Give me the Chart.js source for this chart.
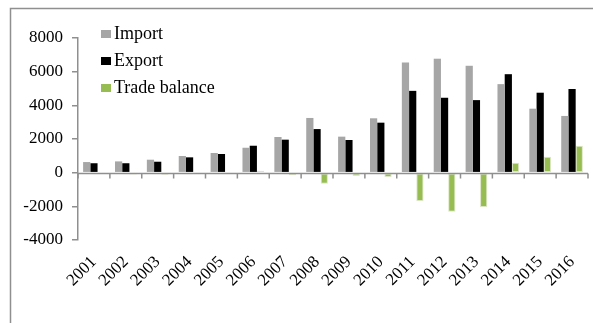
<!DOCTYPE html>
<html>
<head>
<meta charset="utf-8">
<script src="https://cdn.jsdelivr.net/npm/chart.js@4"></script>
<style>
  html, body { margin: 0; padding: 0; background: #ffffff; }
  #wrap { width: 593px; height: 323px; position: relative; }
</style>
</head>
<body>
<div id="wrap"><canvas id="chart" width="593" height="323"></canvas></div>
<script>
// Yearly trade figures
const years = ['2001', '2002', '2003', '2004', '2005', '2006', '2007', '2008',
               '2009', '2010', '2011', '2012', '2013', '2014', '2015', '2016'];
const importValues = [630, 670, 770, 990, 1170, 1480, 2120, 3250,
                      2140, 3230, 6550, 6770, 6350, 5260, 3800, 3370];
const exportValues = [560, 560, 650, 910, 1110, 1600, 1960, 2590,
                      1940, 2970, 4860, 4450, 4310, 5850, 4750, 4970];
const tradeBalance = [-70, -110, -120, -80, -60, 120, -160, -660,
                      -200, -260, -1690, -2320, -2040, 590, 950, 1600];
const yTickValues = [-4000, -2000, 0, 2000, 4000, 6000, 8000];

const AXIS_GREY = '#8f8f8f';
const SERIF = '"Liberation Serif", "Times New Roman", serif';

// Outer border of the chart box
const framePlugin = {
  id: 'frame',
  beforeDraw(chart) {
    const ctx = chart.ctx;
    ctx.save();
    ctx.strokeStyle = AXIS_GREY;
    ctx.lineWidth = 1.5;
    ctx.beginPath();
    ctx.moveTo(10.5, 323);
    ctx.lineTo(10.5, 8.5);
    ctx.lineTo(593, 8.5);
    ctx.stroke();
    ctx.restore();
  }
};

// Category axis line crossing at zero, with tick marks between categories
const zeroAxisPlugin = {
  id: 'zeroAxis',
  afterDatasetsDraw(chart) {
    const { ctx, chartArea, scales } = chart;
    const y0 = Math.round(scales.y.getPixelForValue(0)) + 0.5;
    const n = chart.data.labels.length;
    const step = (chartArea.right - chartArea.left) / n;
    ctx.save();
    ctx.strokeStyle = AXIS_GREY;
    ctx.lineWidth = 1.5;
    ctx.beginPath();
    ctx.moveTo(chartArea.left, y0);
    ctx.lineTo(chartArea.right, y0);
    for (let i = 0; i <= n; i++) {
      const x = chartArea.left + i * step;
      ctx.moveTo(x, y0);
      ctx.lineTo(x, y0 + 5);
    }
    ctx.stroke();
    ctx.restore();
  }
};

// Legend stacked in the upper-left corner of the plot
const cornerLegendPlugin = {
  id: 'cornerLegend',
  afterDraw(chart) {
    const ctx = chart.ctx;
    ctx.save();
    ctx.font = '18px ' + SERIF;
    ctx.textBaseline = 'alphabetic';
    ctx.textAlign = 'left';
    chart.data.datasets.forEach((ds, i) => {
      const base = 39 + i * 27;
      ctx.fillStyle = ds.backgroundColor;
      ctx.fillRect(101, base - 9, 10, 8);
      ctx.fillStyle = '#000000';
      ctx.fillText(ds.label, 114, base);
    });
    ctx.restore();
  }
};

new Chart(document.getElementById('chart'), {
  type: 'bar',
  data: {
    labels: years,
    datasets: [
      { label: 'Import', data: importValues, backgroundColor: '#a6a6a6', borderWidth: 0 },
      { label: 'Export', data: exportValues, backgroundColor: '#000000', borderWidth: 0 },
      { label: 'Trade balance', data: tradeBalance, backgroundColor: '#97bd52',
        borderColor: '#dbe6c4', borderWidth: 1, borderSkipped: false }
    ]
  },
  options: {
    responsive: false,
    devicePixelRatio: 1,
    animation: false,
    layout: { padding: { top: 38, right: 5, left: 0, bottom: 0 } },
    datasets: { bar: { categoryPercentage: 0.68, barPercentage: 1 } },
    plugins: { legend: { display: false }, tooltip: { enabled: false } },
    scales: {
      x: {
        grid: { display: false },
        border: { display: false },
        ticks: {
          autoSkip: false, minRotation: 45, maxRotation: 45, padding: 4,
          color: '#000000', font: { family: SERIF, size: 17 }
        },
        afterFit(scale) { scale.height = 83; }
      },
      y: {
        min: yTickValues[0],
        max: yTickValues[yTickValues.length - 1],
        afterBuildTicks(scale) { scale.ticks = yTickValues.map(v => ({ value: v })); },
        grid: { drawOnChartArea: false, drawTicks: true, tickLength: 6, color: AXIS_GREY, lineWidth: 1.5 },
        border: { display: true, color: AXIS_GREY, width: 1.5 },
        ticks: {
          padding: 9, color: '#000000', font: { family: SERIF, size: 17 },
          callback: v => String(v)
        },
        afterFit(scale) { scale.width = 78; }
      }
    }
  },
  plugins: [framePlugin, zeroAxisPlugin, cornerLegendPlugin]
});
</script>
</body>
</html>
